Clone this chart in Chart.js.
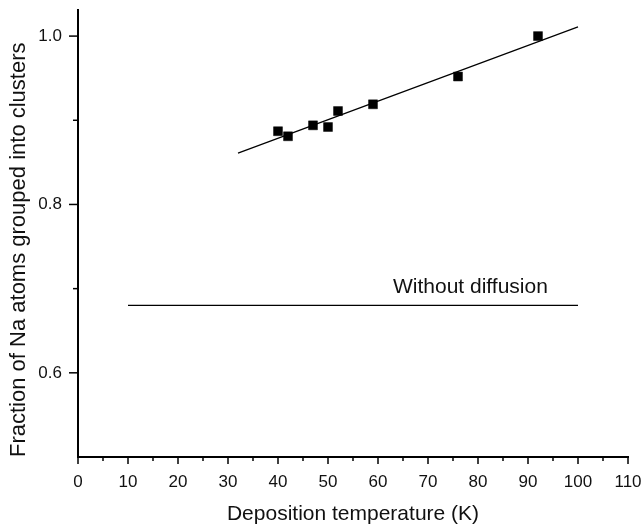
<!DOCTYPE html>
<html>
<head>
<meta charset="utf-8">
<title>Na clusters vs deposition temperature</title>
<script src="https://cdn.jsdelivr.net/npm/chart.js@4/dist/chart.umd.min.js"></script>
<style>
  body { margin: 0; background: #fff; }
  #wrap { width: 643px; height: 527px; }
</style>
</head>
<body>
<div id="wrap"><canvas id="grafico"></canvas></div>
<script>
// measured points
const temps = [40, 42, 47, 50, 52, 59, 76, 92]
const fractions = [0.887, 0.881, 0.894, 0.892, 0.911, 0.919, 0.952, 1.0]

// linear fit line
const fitTemps = [32, 100]
const fitValues = [0.861, 1.011]

// "without diffusion" reference level
const noDiffTemps = [10, 100]
const noDiffValues = [0.68, 0.68]

const yTicks = [0.6, 0.7, 0.8, 0.9, 1.0]
const yLabels = ["0.6", "0.8", "1.0"]

const noDiffLabel = "Without diffusion"
const noDiffLabelAt = { x: 63, y: 0.695 }

const fonte = "'Liberation Sans', Arial, sans-serif"

function pares(xs, ys){
  return xs.map((x, i) => ({ x: x, y: ys[i] }))
}

// tick marks drawn by hand: majors longer than minors
const marcas = {
  id: "marcas",
  afterDraw(chart){
    const ctx = chart.ctx
    const sx = chart.scales.x
    const sy = chart.scales.y
    ctx.save()
    ctx.strokeStyle = "#000"
    ctx.lineWidth = 1.5
    sx.ticks.forEach(t => {
      const px = sx.getPixelForValue(t.value)
      const len = t.value % 10 === 0 ? 7 : 4
      ctx.beginPath()
      ctx.moveTo(px, sx.top)
      ctx.lineTo(px, sx.top + len)
      ctx.stroke()
    })
    sy.ticks.forEach(t => {
      const py = sy.getPixelForValue(t.value)
      const len = Math.round(t.value * 10) % 2 === 0 ? 9 : 5
      ctx.beginPath()
      ctx.moveTo(sy.right, py)
      ctx.lineTo(sy.right - len, py)
      ctx.stroke()
    })
    // label over the reference line
    ctx.fillStyle = "#111"
    ctx.font = "21px " + fonte
    ctx.textAlign = "left"
    ctx.textBaseline = "alphabetic"
    ctx.fillText(noDiffLabel, sx.getPixelForValue(noDiffLabelAt.x), sy.getPixelForValue(noDiffLabelAt.y))
    ctx.restore()
  }
}

const ctx = document.getElementById("grafico").getContext("2d")
new Chart(ctx, {
  type: "scatter",
  data: {
    datasets: [
      {
        label: "Data",
        data: pares(temps, fractions),
        pointStyle: "rect",
        pointRadius: 6.3,
        pointBackgroundColor: "#000",
        pointBorderColor: "#000",
        pointBorderWidth: 0.5,
      },
      {
        label: "Fit",
        data: pares(fitTemps, fitValues),
        showLine: true,
        borderColor: "#000",
        borderWidth: 1.2,
        pointRadius: 0,
      },
      {
        label: "Without diffusion",
        data: pares(noDiffTemps, noDiffValues),
        showLine: true,
        borderColor: "#000",
        borderWidth: 1.2,
        pointRadius: 0,
      },
    ],
  },
  options: {
    responsive: true,
    maintainAspectRatio: false,
    devicePixelRatio: 1,
    animation: false,
    layout: { padding: { top: 10, right: 15, left: 0, bottom: 0 } },
    plugins: {
      legend: { display: false },
      tooltip: { enabled: false },
    },
    scales: {
      x: {
        type: "linear",
        min: 0,
        max: 110,
        afterFit: s => {
          s.height = 70
          s.paddingLeft = 0
          s.paddingRight = 0
        },
        border: { display: true, color: "#000", width: 2 },
        grid: { display: false, drawTicks: false },
        ticks: {
          stepSize: 5,
          autoSkip: false,
          maxRotation: 0,
          padding: 15,
          color: "#111",
          font: { family: fonte, size: 17 },
          callback: v => (v % 10 === 0 ? String(v) : ""),
        },
        title: {
          display: true,
          text: "Deposition temperature (K)",
          color: "#111",
          font: { family: fonte, size: 21 },
          padding: { top: 0, bottom: 0 },
        },
      },
      y: {
        type: "linear",
        min: 0.5,
        max: 1.031,
        afterFit: s => {
          s.width = 78
          s.paddingTop = 0
          s.paddingBottom = 0
        },
        afterBuildTicks: s => { s.ticks = yTicks.map(v => ({ value: v })) },
        border: { display: true, color: "#000", width: 2 },
        grid: { display: false, drawTicks: false },
        ticks: {
          autoSkip: false,
          padding: 16,
          color: "#111",
          font: { family: fonte, size: 17 },
          callback: v => {
            const s = v.toFixed(1)
            return yLabels.includes(s) ? s : ""
          },
        },
        title: {
          display: true,
          text: "Fraction of Na atoms grouped into clusters",
          align: "start",
          color: "#111",
          font: { family: fonte, size: 22 },
          padding: { top: 6, bottom: 0 },
        },
      },
    },
  },
  plugins: [marcas],
})
</script>
</body>
</html>
